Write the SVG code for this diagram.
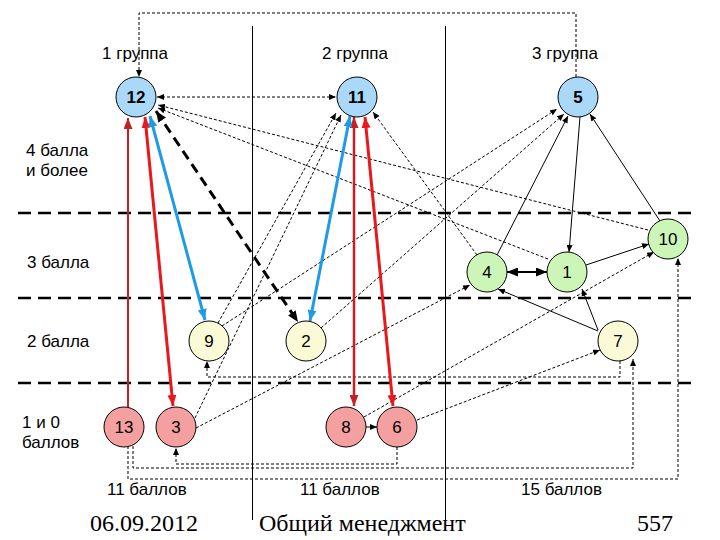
<svg xmlns="http://www.w3.org/2000/svg" width="720" height="540" viewBox="0 0 720 540">
<style>
.lbl{font-family:"Liberation Sans",Arial,sans-serif;font-size:17px;fill:#000}
.num{font-family:"Liberation Sans",Arial,sans-serif;font-size:17px;fill:#000;text-anchor:middle}
.bold{font-weight:bold}
.foot{font-family:"Liberation Serif","Times New Roman",serif;font-size:24px;fill:#000}
.nb{fill:#a9d8f9;stroke:#000;stroke-width:1}
.ng{fill:#ccf5b8;stroke:#000;stroke-width:1}
.ny{fill:#fbfad6;stroke:#000;stroke-width:1}
.nr{fill:#f5a0a0;stroke:#000;stroke-width:1}
.sep{stroke:#000;stroke-width:2.5;stroke-dasharray:13 7;fill:none}
.vl{stroke:#000;stroke-width:1;fill:none}
.td{stroke:#000;stroke-width:1;stroke-dasharray:3 2;fill:none}
.ts{stroke:#000;stroke-width:1;fill:none}
</style>
<defs>
<marker id="a" markerUnits="userSpaceOnUse" markerWidth="7" markerHeight="6" refX="7" refY="3" orient="auto-start-reverse"><path d="M0,0 L7,3 L0,6 z" fill="#000"/></marker>
<marker id="ak" markerUnits="userSpaceOnUse" markerWidth="11" markerHeight="9" refX="11" refY="4.5" orient="auto-start-reverse"><path d="M0,0 L11,4.5 L0,9 z" fill="#000"/></marker>
<marker id="ar" markerUnits="userSpaceOnUse" markerWidth="11" markerHeight="9" refX="11" refY="4.5" orient="auto-start-reverse"><path d="M0,0 L11,4.5 L0,9 z" fill="#e8181c"/></marker>
<marker id="ard" markerUnits="userSpaceOnUse" markerWidth="11" markerHeight="9" refX="11" refY="4.5" orient="auto-start-reverse"><path d="M0,0 L11,4.5 L0,9 z" fill="#c62026"/></marker>
<marker id="ab" markerUnits="userSpaceOnUse" markerWidth="11" markerHeight="9" refX="11" refY="4.5" orient="auto-start-reverse"><path d="M0,0 L11,4.5 L0,9 z" fill="#1e9be6"/></marker>
</defs>
<rect width="720" height="540" fill="#fff"/>
<g id="grid">
<line class="vl" x1="252.5" y1="26" x2="252.5" y2="520"/>
<line class="vl" x1="445.5" y1="26" x2="445.5" y2="520"/>
<line class="sep" x1="18" y1="213" x2="692" y2="213"/>
<line class="sep" x1="18" y1="298" x2="692" y2="298"/>
<line class="sep" x1="18" y1="383" x2="692" y2="383"/>
</g>
<g id="labels">
<text class="lbl" x="102" y="59">1 группа</text>
<text class="lbl" x="322" y="59">2 группа</text>
<text class="lbl" x="532" y="59">3 группа</text>
<text class="lbl" x="26" y="156">4 балла</text>
<text class="lbl" x="26" y="176">и более</text>
<text class="lbl" x="27" y="268">3 балла</text>
<text class="lbl" x="27" y="347">2 балла</text>
<text class="lbl" x="22" y="428">1 и 0</text>
<text class="lbl" x="22" y="448">баллов</text>
<text class="lbl" x="107" y="495">11 баллов</text>
<text class="lbl" x="300" y="495">11 баллов</text>
<text class="lbl" x="521" y="495">15 баллов</text>
<text class="foot" x="90" y="531">06.09.2012</text>
<text class="foot" x="259" y="531">Общий менеджмент</text>
<text class="foot" x="637" y="531">557</text>
</g>
<g id="connectors">
<line class="td" x1="157" y1="97" x2="336" y2="97" marker-start="url(#a)" marker-end="url(#a)"/>
<polyline class="td" points="576,77 576,13 139,13 139,77" marker-end="url(#a)"/>
<line class="td" x1="648" y1="230" x2="158" y2="105" marker-end="url(#a)"/>
<line class="td" x1="548" y1="259" x2="158" y2="108" marker-end="url(#a)"/>
<line class="td" x1="218" y1="323" x2="336" y2="113" marker-end="url(#a)"/>
<line class="td" x1="195" y1="418" x2="341" y2="115" marker-end="url(#a)"/>
<line class="td" x1="222" y1="326" x2="557" y2="109" marker-end="url(#a)"/>
<line class="td" x1="321" y1="328" x2="564" y2="114" marker-end="url(#a)"/>
<line class="td" x1="477" y1="255" x2="373" y2="112" marker-end="url(#a)"/>
<line class="td" x1="196" y1="428" x2="470" y2="285" marker-end="url(#a)"/>
<line class="td" x1="364" y1="417" x2="654" y2="252" marker-end="url(#a)"/>
<line class="td" x1="417" y1="420" x2="600" y2="350" marker-end="url(#a)"/>
<polyline class="td" points="397,447 397,464 176,464 176,448" marker-end="url(#a)"/>
<polyline class="td" points="133,446 133,468 633,468 633,359" marker-end="url(#a)"/>
<polyline class="td" points="128,446 128,479 678,479 678,258" marker-end="url(#a)"/>
<polyline class="td" points="620,361 620,377 207,377 207,361" marker-end="url(#a)"/>
<line class="ts" x1="497" y1="255" x2="568" y2="116" marker-end="url(#a)"/>
<line class="ts" x1="580" y1="117" x2="569" y2="252" marker-end="url(#a)"/>
<line class="ts" x1="660" y1="221" x2="590" y2="114" marker-end="url(#a)"/>
<line class="ts" x1="586" y1="265" x2="649" y2="244" marker-end="url(#a)"/>
<line class="ts" x1="598" y1="330" x2="582" y2="289" marker-end="url(#a)"/>
<line class="ts" x1="598" y1="331" x2="498" y2="289" marker-end="url(#a)"/>
<line class="ts" x1="366" y1="427" x2="377" y2="427" marker-end="url(#a)"/>
<line stroke="#000" stroke-width="2" x1="507" y1="272" x2="547" y2="272" marker-start="url(#ak)" marker-end="url(#ak)"/>
<line stroke="#c62026" stroke-width="2" x1="128" y1="407" x2="128" y2="118" marker-end="url(#ard)"/>
<line stroke="#e8181c" stroke-width="3" x1="145" y1="117" x2="173" y2="406" marker-start="url(#ar)" marker-end="url(#ar)"/>
<line stroke="#1e9be6" stroke-width="3" x1="150" y1="116" x2="205" y2="320" marker-start="url(#ab)" marker-end="url(#ab)"/>
<line stroke="#000" stroke-width="3" stroke-dasharray="10 6" x1="156" y1="111" x2="298" y2="322" marker-start="url(#ak)" marker-end="url(#ak)"/>
<line stroke="#c62026" stroke-width="2.5" x1="354" y1="117" x2="354" y2="406" marker-start="url(#ard)" marker-end="url(#ard)"/>
<line stroke="#e8181c" stroke-width="3" x1="365" y1="117" x2="393" y2="406" marker-start="url(#ar)" marker-end="url(#ar)"/>
<line stroke="#1e9be6" stroke-width="3" x1="350" y1="116" x2="310" y2="321" marker-start="url(#ab)" marker-end="url(#ab)"/>
</g>
<g id="n12"><circle class="nb" cx="136" cy="97" r="20"/><text class="num bold" x="136" y="103">12</text></g>
<g id="n11"><circle class="nb" cx="357" cy="97" r="20"/><text class="num bold" x="357" y="103">11</text></g>
<g id="n5"><circle class="nb" cx="578" cy="97" r="20"/><text class="num bold" x="578" y="103">5</text></g>
<g id="n10"><circle class="ng" cx="668" cy="239" r="20"/><text class="num" x="668" y="245">10</text></g>
<g id="n4"><circle class="ng" cx="487" cy="272" r="20"/><text class="num" x="487" y="278">4</text></g>
<g id="n1"><circle class="ng" cx="567" cy="272" r="20"/><text class="num" x="567" y="278">1</text></g>
<g id="n9"><circle class="ny" cx="209" cy="341" r="20"/><text class="num" x="209" y="347">9</text></g>
<g id="n2"><circle class="ny" cx="306" cy="341" r="20"/><text class="num" x="306" y="347">2</text></g>
<g id="n7"><circle class="ny" cx="618" cy="341" r="20"/><text class="num" x="618" y="347">7</text></g>
<g id="n13"><circle class="nr" cx="124" cy="427" r="20"/><text class="num" x="124" y="433">13</text></g>
<g id="n3"><circle class="nr" cx="176" cy="427" r="20"/><text class="num" x="176" y="433">3</text></g>
<g id="n8"><circle class="nr" cx="346" cy="427" r="20"/><text class="num" x="346" y="433">8</text></g>
<g id="n6"><circle class="nr" cx="397" cy="427" r="20"/><text class="num" x="397" y="433">6</text></g>
</svg>
